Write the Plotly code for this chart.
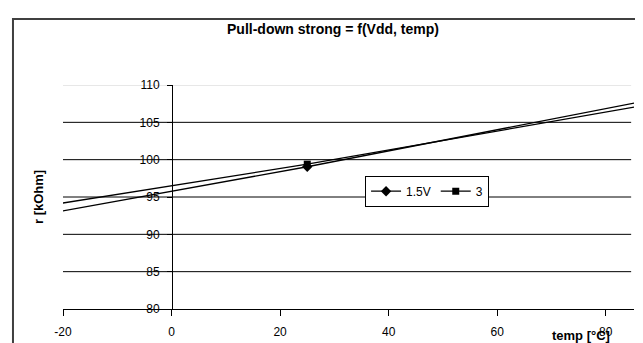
import plotly.graph_objects as go

# ---- data ----
temps = [-40, 25, 125]
r_15v = [90.53, 99.05, 113.22]
r_3v = [91.89, 99.40, 112.07]
series_names = ["1.5V", "3"]
y_ticks = [80, 85, 90, 95, 100, 105, 110]
x_ticks = [-20, 0, 20, 40, 60, 80]
grid_black = [85, 90, 95, 100, 105]
grid_gray = [110]

FONT = "Liberation Sans, Arial, sans-serif"

fig = go.Figure()
fig.add_trace(go.Scatter(
    x=temps, y=r_15v, name=series_names[0], mode="lines+markers",
    line=dict(color="black", width=1.3),
    marker=dict(symbol="diamond", size=8, color="black"),
))
fig.add_trace(go.Scatter(
    x=temps, y=r_3v, name=series_names[1], mode="lines+markers",
    line=dict(color="black", width=1.3),
    marker=dict(symbol="square", size=7, color="black"),
))

shapes = []
for g in grid_black:
    shapes.append(dict(type="line", xref="paper", yref="y", x0=0, x1=0.995, y0=g, y1=g,
                       line=dict(color="black", width=1), layer="below"))
for g in grid_gray:
    shapes.append(dict(type="line", xref="paper", yref="y", x0=0, x1=0.995, y0=g, y1=g,
                       line=dict(color="#cfcfcf", width=1), layer="below"))
# outer chart frame (extends past the image edge)
shapes.append(dict(type="rect", xref="paper", yref="paper",
                   x0=-0.0876, x1=1.08, y0=-0.3, y1=1.2952,
                   line=dict(color="#404040", width=2), fillcolor="rgba(0,0,0,0)"))

fig.update_layout(
    width=643, height=343,
    margin=dict(l=55, r=17, t=77, b=39),
    paper_bgcolor="white", plot_bgcolor="white",
    font=dict(family=FONT, size=12, color="black"),
    title=dict(text="<b>Pull-down strong = f(Vdd, temp)</b>", x=0.5054, xanchor="center",
               y=1 - 21 / 343, yanchor="middle", font=dict(size=14, family=FONT, color="black")),
    shapes=shapes,
    showlegend=True,
    legend=dict(orientation="h", x=0.529, y=0.595, xanchor="left", yanchor="top",
                bordercolor="black", borderwidth=1, bgcolor="white",
                font=dict(size=12, family=FONT), itemwidth=30,
                tracegroupgap=0),
    xaxis=dict(range=[-20, 85.2], tickvals=x_ticks, ticktext=[str(v) for v in x_ticks],
               showgrid=False, zeroline=False, showline=True, linecolor="black", linewidth=1,
               ticks="outside", ticklen=6, tickcolor="black", tickwidth=1,
               ticklabelstandoff=6,
               tickfont=dict(size=12, family=FONT)),
    yaxis=dict(range=[80, 110], tickvals=y_ticks, ticktext=[str(v) for v in y_ticks],
               anchor="free", position=0.1909, showgrid=False, zeroline=False,
               showline=True, linecolor="black", linewidth=1,
               ticks="outside", ticklen=5, tickcolor="black", tickwidth=1,
               ticklabelstandoff=5,
               tickfont=dict(size=12, family=FONT)),
    annotations=[
        dict(text="<b>r [kOhm]</b>", xref="paper", yref="paper", x=(30 - 55) / 571, y=0.5,
             textangle=-90, showarrow=False, font=dict(size=13, family=FONT),
             xanchor="center", yanchor="middle"),
        dict(text="<b>temp [°C]</b>", xref="paper", yref="paper",
             x=(573 - 55) / 571, y=(304 - 331) / 227, showarrow=False,
             font=dict(size=13, family=FONT), xanchor="center", yanchor="middle"),
    ],
)

fig.write_html("out.html")
